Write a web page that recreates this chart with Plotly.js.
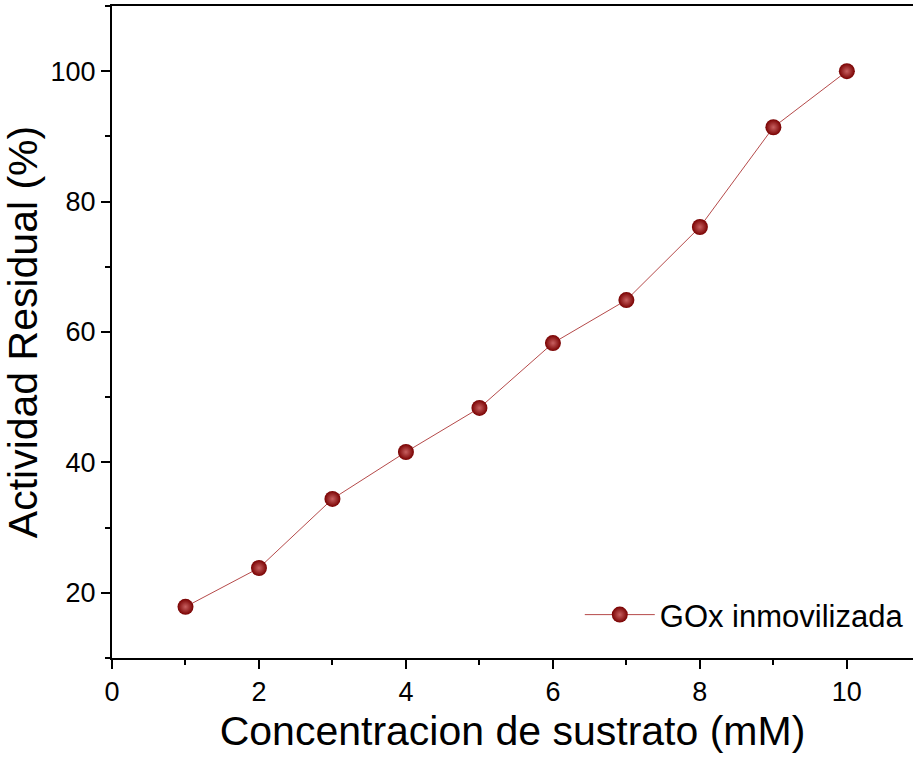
<!DOCTYPE html>
<html>
<head>
<meta charset="utf-8">
<script src="https://cdn.plot.ly/plotly-3.0.1.min.js"></script>
<style>html,body{margin:0;padding:0;background:#fff}#chart{width:913px;height:758px}</style>
</head>
<body>
<div id="chart"></div>
<script>
var concentracion = [1, 2, 3, 4, 5, 6, 7, 8, 9, 10];
var actividad = [17.85, 23.8, 34.4, 41.6, 48.35, 58.3, 64.9, 76.1, 91.4, 100];
var xTicks = [0, 2, 4, 6, 8, 10];
var yTicks = [20, 40, 60, 80, 100];
var serieNombre = 'GOx inmovilizada';

var trace = {
  x: concentracion,
  y: actividad,
  mode: 'lines+markers',
  type: 'scatter',
  name: serieNombre,
  line: {color: '#b54a4a', width: 1},
  marker: {
    size: 16,
    color: '#780000',
    gradient: {type: 'radial', color: '#c86060'},
    line: {width: 0}
  }
};

var fam = 'Liberation Sans, Arial, sans-serif';
var axisFont = {family: fam, size: 27, color: '#000'};

var layout = {
  width: 913,
  height: 758,
  margin: {l: 112, r: 0, t: 6, b: 100},
  paper_bgcolor: '#fff',
  plot_bgcolor: '#fff',
  showlegend: true,
  legend: {
    x: 0.584, y: 0.066, xanchor: 'left', yanchor: 'middle',
    itemwidth: 70,
    font: {family: fam, size: 31, color: '#000'},
    bgcolor: 'rgba(0,0,0,0)'
  },
  xaxis: {
    range: [0, 10.9],
    tickvals: xTicks,
    ticks: 'outside', ticklen: 9, tickwidth: 2, tickcolor: '#000',
    showline: true, linewidth: 2, linecolor: '#000', mirror: true,
    showgrid: false, zeroline: false,
    tickfont: axisFont,
    minor: {tickvals: [1, 3, 5, 7, 9], ticks: 'outside', ticklen: 5, tickwidth: 2, tickcolor: '#000', showgrid: false},
    title: {text: 'Concentracion de sustrato (mM)', font: {family: fam, size: 41, color: '#000'}, standoff: 10}
  },
  yaxis: {
    range: [10, 110],
    tickvals: yTicks,
    ticks: 'outside', ticklen: 9, tickwidth: 2, tickcolor: '#000',
    showline: true, linewidth: 2, linecolor: '#000',
    showgrid: false, zeroline: false,
    tickfont: axisFont,
    minor: {tickvals: [10, 30, 50, 70, 90, 110], ticks: 'outside', ticklen: 5, tickwidth: 2, tickcolor: '#000', showgrid: false},
    title: {text: 'Actividad Residual (%)', font: {family: fam, size: 41, color: '#000'}, standoff: 6}
  }
};

Plotly.newPlot('chart', [trace], layout, {displayModeBar: false, staticPlot: true});
</script>
</body>
</html>
